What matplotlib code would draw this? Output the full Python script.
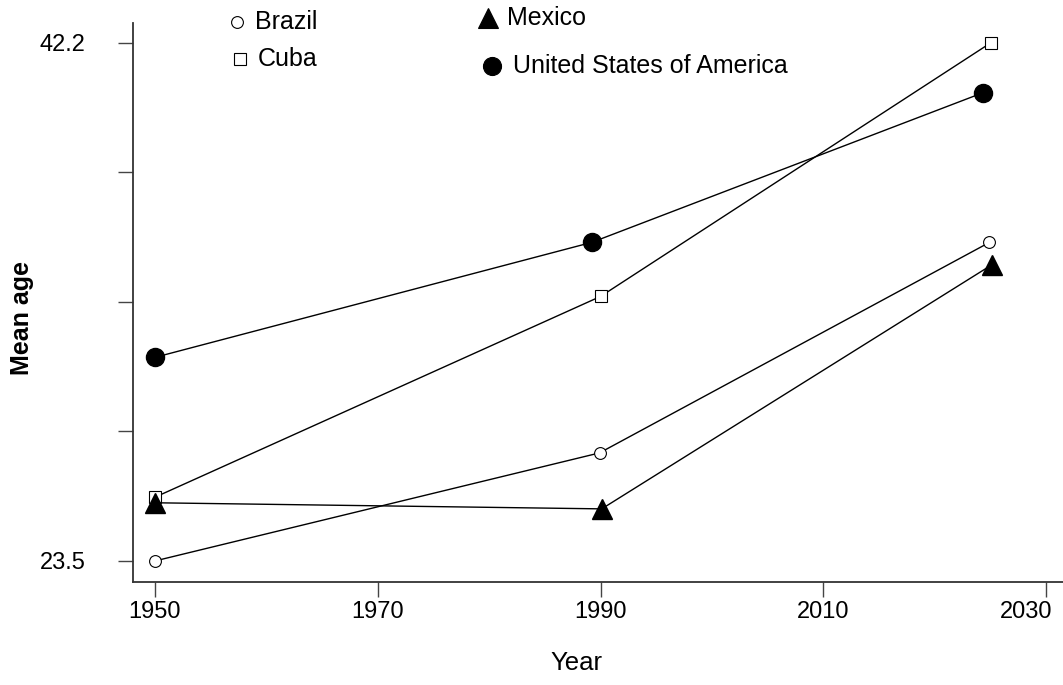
import matplotlib
matplotlib.use('Agg')
import matplotlib.pyplot as plt
import matplotlib.transforms as mtransforms

plt.rcParams['font.family'] = ['Liberation Sans', 'DejaVu Sans']

# mean age by country, three survey years (slight jitter as in original)
brazil_years = [1950, 1989.9, 2024.9]
brazil_age = [23.5, 27.4, 35.0]
cuba_years = [1950, 1990, 2025]
cuba_age = [25.8, 33.05, 42.2]
mexico_years = [1950, 1990.1, 2025.15]
mexico_age = [25.6, 25.38, 34.2]
usa_years = [1950, 1989.2, 2024.3]
usa_age = [30.85, 35.0, 40.4]

y_ticks = [23.5, 28.175, 32.85, 37.525, 42.2]
y_labels = ['23.5', '', '', '', '42.2']
x_ticks = [1950, 1970, 1990, 2010, 2030]

fig = plt.figure(figsize=(10.63, 6.85), dpi=100)
ax = fig.add_axes([133 / 1063, 1 - 582 / 685, 1 - 133 / 1063, (582 - 23) / 685])

ax.plot(brazil_years, brazil_age, color='black', lw=1, marker='o', ms=8.5,
        mfc='white', mec='black', mew=0.8)
ax.plot(cuba_years, cuba_age, color='black', lw=1, marker='s', ms=8.5,
        mfc='white', mec='black', mew=0.8)
ax.plot(mexico_years, mexico_age, color='black', lw=1, marker='^', ms=15,
        mfc='black', mec='black')
ax.plot(usa_years, usa_age, color='black', lw=1, marker='o', ms=13,
        mfc='black', mec='black')

ax.set_xlim(1948.03, 2031.5)
ax.set_ylim(22.74, 42.92)
ax.set_xticks(x_ticks)
ax.set_yticks(y_ticks)
ax.set_yticklabels(y_labels)
ax.tick_params(axis='both', direction='out', length=11, width=1, labelsize=17,
               color='#444444')
ax.tick_params(axis='y', pad=23)
ax.tick_params(axis='x', pad=3)
for s in ['top', 'right']:
    ax.spines[s].set_visible(False)
for s in ['left', 'bottom']:
    ax.spines[s].set_linewidth(1.3)
    ax.spines[s].set_color('#333333')

# last x label pulled in so it stays on the canvas
last = ax.get_xticklabels()[-1]
last.set_transform(last.get_transform() +
                   mtransforms.ScaledTranslation(-20 / 100, 0, fig.dpi_scale_trans))

ax.set_xlabel('Year', fontsize=18.5)
ax.xaxis.set_label_coords((576 - 133) / 930, -(663 - 582) / 559)
ax.set_ylabel('Mean age', fontsize=18, fontweight='bold')
ax.yaxis.set_label_coords(-(133 - 22) / 930, (582 - 318) / 559)
ax.yaxis.label.set_va('center')
ax.xaxis.label.set_va('center')

# legend laid out as in original, in figure pixel coordinates
def fx(px):
    return px / 1063

def fy(py):
    return 1 - py / 685

leg = [('Brazil', 'o', 237, 22, 255, 8.5, 'white'),
       ('Cuba', 's', 240, 59, 258, 8.5, 'white'),
       ('Mexico', '^', 488, 18, 507, 14, 'black'),
       ('United States of America', 'o', 492, 66, 513, 13, 'black')]
for name, m, mx, my, tx, ms, fc in leg:
    fig.add_artist(plt.Line2D([fx(mx)], [fy(my)], marker=m, ms=ms, mfc=fc,
                              mec='black', mew=0.8, transform=fig.transFigure))
    fig.text(fx(tx), fy(my), name, fontsize=18, va='center', ha='left')

fig.savefig('out.png', dpi=100)
